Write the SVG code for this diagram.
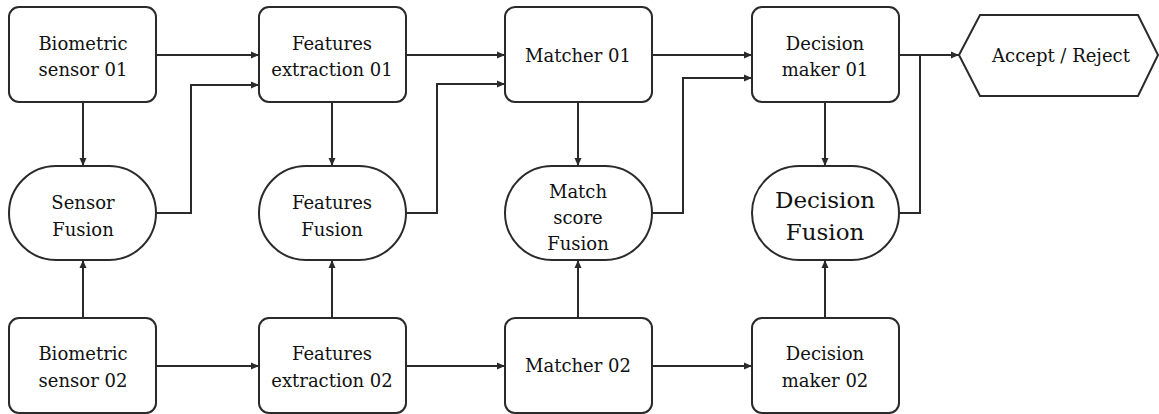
<svg xmlns="http://www.w3.org/2000/svg" width="1159" height="414" viewBox="0 0 1159 414">
  <style>
    .box { fill: #ffffff; stroke: #2a2a2a; stroke-width: 2; }
    .lbl { font-family: "DejaVu Serif", "Liberation Serif", serif; font-size: 18px; fill: #111111; text-anchor: middle; }
    .big { font-size: 23px; }
    .wire { fill: none; stroke: #2a2a2a; stroke-width: 2; }
    .arr { marker-end: url(#head); }
  </style>
  <defs>
    <marker id="head" markerUnits="userSpaceOnUse" markerWidth="9" markerHeight="8" refX="8" refY="4" orient="auto">
      <path d="M0,0.5 L8,4 L0,7.5 Z" fill="#2a2a2a"/>
    </marker>
  </defs>
  <rect width="1159" height="414" fill="#ffffff"/>

  <!-- connectors -->
  <g id="connectors">
    <!-- top row, left to right -->
    <path class="wire arr" d="M156,55 H259"/>
    <path class="wire arr" d="M406,55 H505"/>
    <path class="wire arr" d="M652,55 H752"/>
    <path class="wire arr" d="M899,55 H959"/>
    <!-- fusion outputs back into the top row -->
    <path class="wire arr" d="M156,213 H191 V85 H259"/>
    <path class="wire arr" d="M406,213 H437 V84 H505"/>
    <path class="wire arr" d="M652,213 H683 V78 H752"/>
    <path class="wire" d="M899,213 H920 V55"/>
    <!-- top row down into fusion -->
    <path class="wire arr" d="M83,102 V166"/>
    <path class="wire arr" d="M332,102 V166"/>
    <path class="wire arr" d="M578,102 V166"/>
    <path class="wire arr" d="M825,102 V166"/>
    <!-- bottom row up into fusion -->
    <path class="wire arr" d="M83,318 V260"/>
    <path class="wire arr" d="M332,318 V260"/>
    <path class="wire arr" d="M578,318 V260"/>
    <path class="wire arr" d="M825,318 V260"/>
    <!-- bottom row, left to right -->
    <path class="wire arr" d="M156,366 H259"/>
    <path class="wire arr" d="M406,366 H505"/>
    <path class="wire arr" d="M652,366 H752"/>
  </g>

  <!-- top row -->
  <g id="sensor01">
    <rect class="box" x="9" y="7" width="147" height="95" rx="10"/>
    <text class="lbl" x="83" y="50">Biometric</text>
    <text class="lbl" x="83" y="76">sensor 01</text>
  </g>
  <g id="features01">
    <rect class="box" x="259" y="7" width="147" height="95" rx="10"/>
    <text class="lbl" x="332" y="50">Features</text>
    <text class="lbl" x="332" y="76">extraction 01</text>
  </g>
  <g id="matcher01">
    <rect class="box" x="505" y="7" width="147" height="95" rx="10"/>
    <text class="lbl" x="578" y="62">Matcher 01</text>
  </g>
  <g id="decision01">
    <rect class="box" x="752" y="7" width="147" height="95" rx="10"/>
    <text class="lbl" x="825" y="50">Decision</text>
    <text class="lbl" x="825" y="76">maker 01</text>
  </g>
  <g id="result">
    <polygon class="box" points="959,55 980,15 1138,15 1158,55 1138,96 980,96"/>
    <text class="lbl" x="1061" y="62">Accept / Reject</text>
  </g>

  <!-- fusion row -->
  <g id="sensorFusion">
    <rect class="box" x="9" y="166" width="147" height="94" rx="47"/>
    <text class="lbl" x="83" y="209">Sensor</text>
    <text class="lbl" x="83" y="236">Fusion</text>
  </g>
  <g id="featuresFusion">
    <rect class="box" x="259" y="166" width="147" height="94" rx="47"/>
    <text class="lbl" x="332" y="209">Features</text>
    <text class="lbl" x="332" y="236">Fusion</text>
  </g>
  <g id="matchFusion">
    <rect class="box" x="505" y="166" width="147" height="94" rx="47"/>
    <text class="lbl" x="578" y="198">Match</text>
    <text class="lbl" x="578" y="224">score</text>
    <text class="lbl" x="578" y="250">Fusion</text>
  </g>
  <g id="decisionFusion">
    <rect class="box" x="752" y="166" width="147" height="94" rx="47"/>
    <text class="lbl big" x="825" y="208">Decision</text>
    <text class="lbl big" x="825" y="240">Fusion</text>
  </g>

  <!-- bottom row -->
  <g id="sensor02">
    <rect class="box" x="9" y="318" width="147" height="95" rx="10"/>
    <text class="lbl" x="83" y="360">Biometric</text>
    <text class="lbl" x="83" y="387">sensor 02</text>
  </g>
  <g id="features02">
    <rect class="box" x="259" y="318" width="147" height="95" rx="10"/>
    <text class="lbl" x="332" y="360">Features</text>
    <text class="lbl" x="332" y="387">extraction 02</text>
  </g>
  <g id="matcher02">
    <rect class="box" x="505" y="318" width="147" height="95" rx="10"/>
    <text class="lbl" x="578" y="372">Matcher 02</text>
  </g>
  <g id="decision02">
    <rect class="box" x="752" y="318" width="147" height="95" rx="10"/>
    <text class="lbl" x="825" y="360">Decision</text>
    <text class="lbl" x="825" y="387">maker 02</text>
  </g>
</svg>
